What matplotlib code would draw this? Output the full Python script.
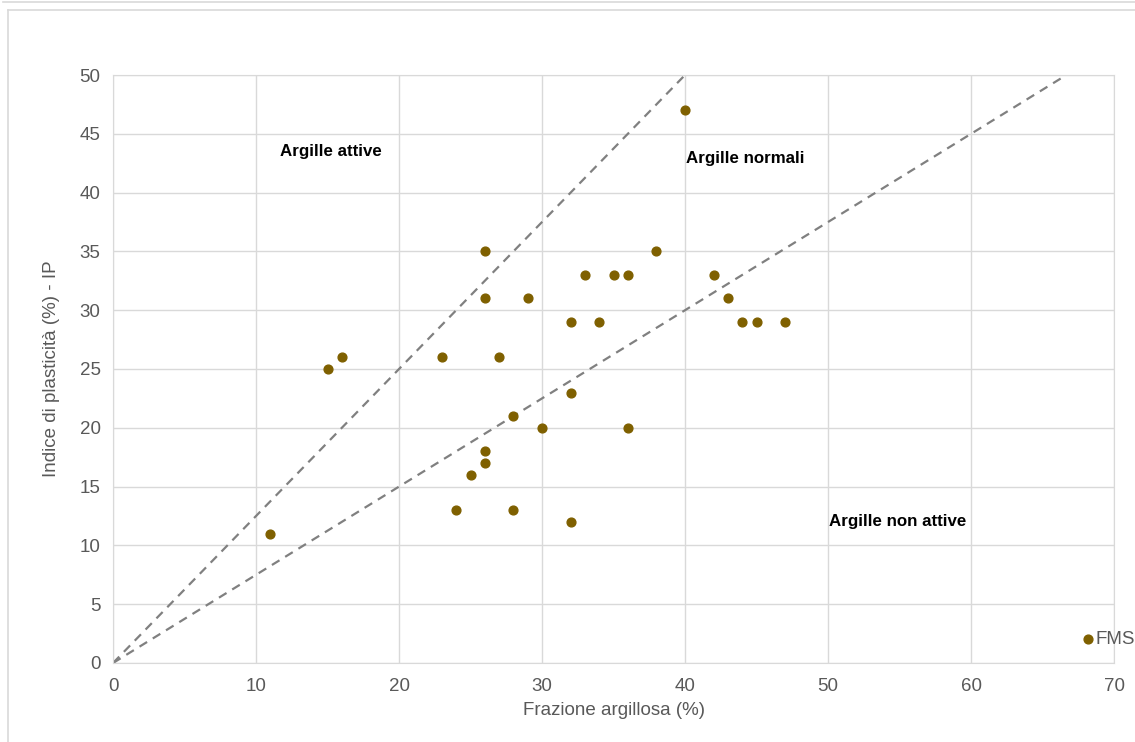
import matplotlib.pyplot as plt
from matplotlib.lines import Line2D

plt.rcParams['font.family'] = ['Liberation Sans', 'DejaVu Sans']

# dati campioni
frazione = [11, 15, 16, 23, 24, 25, 26, 26, 26, 26, 27, 28, 28, 29, 30,
            32, 32, 32, 33, 34, 35, 36, 36, 38, 40, 42, 43, 44, 45, 47]
ip = [11, 25, 26, 26, 13, 16, 35, 31, 18, 17, 26, 21, 13, 31, 20,
      29, 23, 12, 33, 29, 33, 33, 20, 35, 47, 33, 31, 29, 29, 29]

# campione FMS
fms_x = [68.2]
fms_y = [2]

# rette di attivita'
attiva_x = [0, 40]
attiva_y = [0, 50]
inattiva_x = [0, 66.67]
inattiva_y = [0, 50]

fig = plt.figure(figsize=(11.35, 7.42), dpi=100)
ax = fig.add_axes([0.0996, 0.1065, 0.8819, 0.7924])

griglia = '#d9d9d9'
testo = '#595959'
punti = '#7f6000'

ax.plot(attiva_x, attiva_y, color='#808080', lw=1.6, ls=(0, (4, 3)), zorder=2)
ax.plot(inattiva_x, inattiva_y, color='#808080', lw=1.6, ls=(0, (4, 3)), zorder=2)
ax.scatter(frazione, ip, s=40, color=punti, zorder=3, clip_on=False)
ax.scatter(fms_x, fms_y, s=40, color=punti, zorder=3, clip_on=False)
ax.annotate('FMS', (fms_x[0], fms_y[0]), xytext=(5, 0), textcoords='offset points',
            va='center', ha='left', color=testo, fontsize=13.5, annotation_clip=False)

ax.text(11.7, 43.5, 'Argille attive', fontsize=12.2, fontweight='bold', va='center')
ax.text(40.1, 42.9, 'Argille normali', fontsize=12.2, fontweight='bold', va='center')
ax.text(50.1, 12.0, 'Argille non attive', fontsize=12.2, fontweight='bold', va='center')

ax.set_xlim(0, 70)
ax.set_ylim(0, 50)
ax.set_xticks(range(0, 71, 10))
ax.set_yticks(range(0, 51, 5))
ax.grid(True, color=griglia, lw=1)
ax.set_axisbelow(True)
for s in ax.spines.values():
    s.set_color(griglia)
ax.tick_params(length=0, colors=testo, labelsize=13.5)
ax.tick_params(axis='x', pad=11)
ax.tick_params(axis='y', pad=9)
ax.set_xlabel('Frazione argillosa (%)', color=testo, fontsize=13.5, labelpad=5)
ax.set_ylabel('Indice di plasticità (%) - IP', color=testo, fontsize=13.5, labelpad=14)

# cornice area grafico
W, H = 1135, 742
fig.add_artist(Line2D([8 / W, 1], [1 - 10 / H, 1 - 10 / H], color=griglia, lw=1.2))
fig.add_artist(Line2D([8 / W, 8 / W], [0, 1 - 10 / H], color=griglia, lw=1.2))
fig.add_artist(Line2D([3 / W, 1], [1 - 1.5 / H, 1 - 1.5 / H], color=griglia, lw=1.2))

plt.savefig('out.png', dpi=100)
